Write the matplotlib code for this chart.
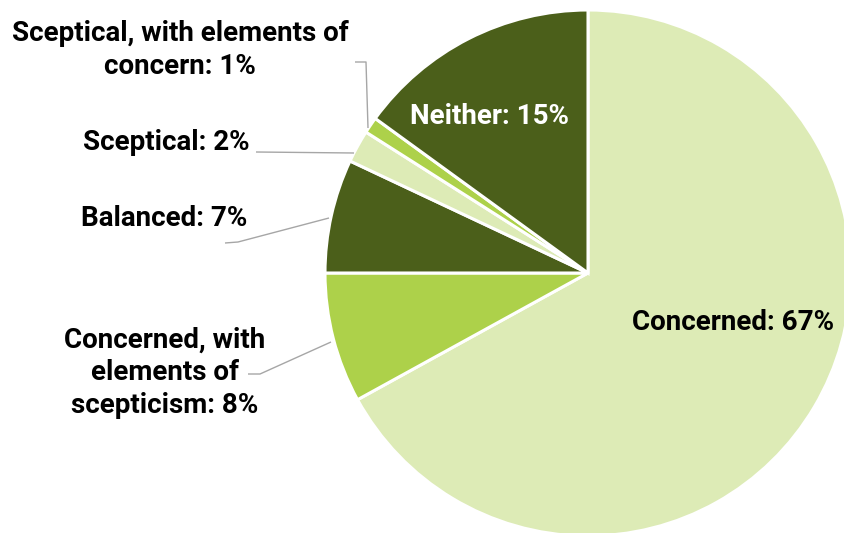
import matplotlib
matplotlib.use("Agg")
import matplotlib.pyplot as plt

# Share of responses by stance
categories = [
    "Concerned",
    "Concerned, with\nelements of\nscepticism",
    "Balanced",
    "Sceptical",
    "Sceptical, with elements of\nconcern",
    "Neither",
]
values = [67, 8, 7, 2, 1, 15]
colors = ["#DDEBB6", "#ADD14A", "#4B5F1A", "#DDEBB6", "#ADD14A", "#4B5F1A"]

W, H = 844, 533
fig = plt.figure(figsize=(W / 100, H / 100), dpi=100)
ax = fig.add_axes([0, 0, 1, 1])

cx, cy, r = 588, H - 273, 263
wedges, _ = ax.pie(
    values, colors=colors, startangle=90, counterclock=False,
    center=(cx, cy), radius=r, frame=True,
    wedgeprops=dict(edgecolor="white", linewidth=2.2),
)
ax.set_xlim(0, W)
ax.set_ylim(0, H)
ax.set_aspect("equal")
ax.axis("off")

font = dict(family=["Roboto", "DejaVu Sans"], fontweight="bold", fontsize=20)
labels = [f"{c}: {v}%" for c, v in zip(categories, values)]

def py(y):
    return H - y

# label placement (x, y, ha, color)
place = [
    (733, 322, "center", "black"),
    (165, 373, "center", "black"),
    (247, 218, "right", "black"),
    (250, 143, "right", "black"),
    (180, 50, "center", "black"),
    (490, 116, "center", "white"),
]
for lab, (x, y, ha, col) in zip(labels, place):
    ax.text(x, py(y), lab, ha=ha, va="center", color=col,
            linespacing=1.27, **font)

# leader lines
leaders = [
    [(355, 62), (366, 62), (368, 128)],
    [(256, 152), (354, 153)],
    [(225, 243), (238, 242), (329, 218)],
    [(248, 374), (260, 374), (331, 342)],
]
for pts in leaders:
    xs = [p[0] for p in pts]
    ys = [py(p[1]) for p in pts]
    ax.plot(xs, ys, color="#A6A6A6", linewidth=1.0, solid_capstyle="butt")

fig.savefig("out.png", dpi=100)
